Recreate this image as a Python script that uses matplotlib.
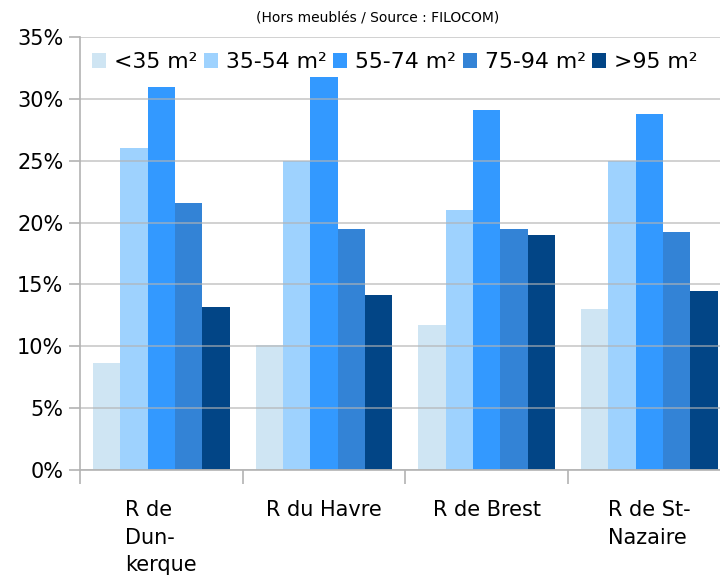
import numpy as np
import matplotlib
matplotlib.use("Agg")
import matplotlib.pyplot as plt
from matplotlib.ticker import FixedLocator

# values in %
regions = ["R de\nDun-\nkerque", "R du Havre", "R de Brest", "R de St-\nNazaire"]
size_classes = ["<35 m²", "35-54 m²", "55-74 m²", "75-94 m²", ">95 m²"]
lt35 = [8.6, 10.1, 11.7, 13.0]
s35_54 = [26.0, 25.0, 21.0, 25.0]
s55_74 = [31.0, 31.8, 29.1, 28.8]
s75_94 = [21.6, 19.5, 19.5, 19.2]
gt95 = [13.2, 14.1, 19.0, 14.5]
colors = ["#cfe5f3", "#9ed2fe", "#3399ff", "#3383d6", "#024586"]

series = [lt35, s35_54, s55_74, s75_94, gt95]

fig = plt.figure(figsize=(7.2, 5.8), dpi=100)
ax = fig.add_axes([0.111, 0.19, 0.904, 0.746])

x = np.arange(len(regions))
w = 0.168
for i, (vals, name) in enumerate(zip(series, size_classes)):
    ax.bar(x + (i - 2) * w, vals, w, color=colors[i], label=name, zorder=2)

ax.set_xlim(-0.5, len(regions) - 0.5)
ax.set_ylim(0, 35)
ax.set_yticks(np.arange(0, 36, 5))
ax.set_yticklabels([f"{v}%" for v in range(0, 36, 5)], fontsize=15)
ax.yaxis.grid(True, color="#b3b3b3", linewidth=1.2, alpha=0.7, zorder=3)
ax.set_axisbelow(False)

# category labels at centres, separators as ticks
ax.set_xticks(x)
ax.set_xticklabels(regions, fontsize=15, ha="center", multialignment="left",
                   linespacing=1.45)
ax.tick_params(axis="x", length=0, pad=22)
ax.xaxis.set_minor_locator(FixedLocator(np.arange(-0.5, len(regions), 1.0)))
ax.tick_params(axis="x", which="minor", length=10, color="#b3b3b3", width=1.2)
ax.tick_params(axis="y", length=8, color="#b3b3b3", width=1.2, pad=4)

for s in ["top", "right"]:
    ax.spines[s].set_visible(False)
ax.spines["left"].set_color("#b3b3b3")
ax.spines["left"].set_linewidth(1.2)
ax.spines["bottom"].set_color("#b3b3b3")
ax.spines["bottom"].set_linewidth(1.2)

ax.legend(loc="upper left", bbox_to_anchor=(-0.005, 1.0), ncol=5, frameon=False,
          fontsize=15.8, handlelength=0.65, handleheight=0.65, handletextpad=0.35,
          columnspacing=0.3, borderaxespad=0.3)

fig.text(0.525, 0.968, "(Hors meublés / Source : FILOCOM)", ha="center", va="center",
         fontsize=10)

fig.savefig("out.png", dpi=100)
